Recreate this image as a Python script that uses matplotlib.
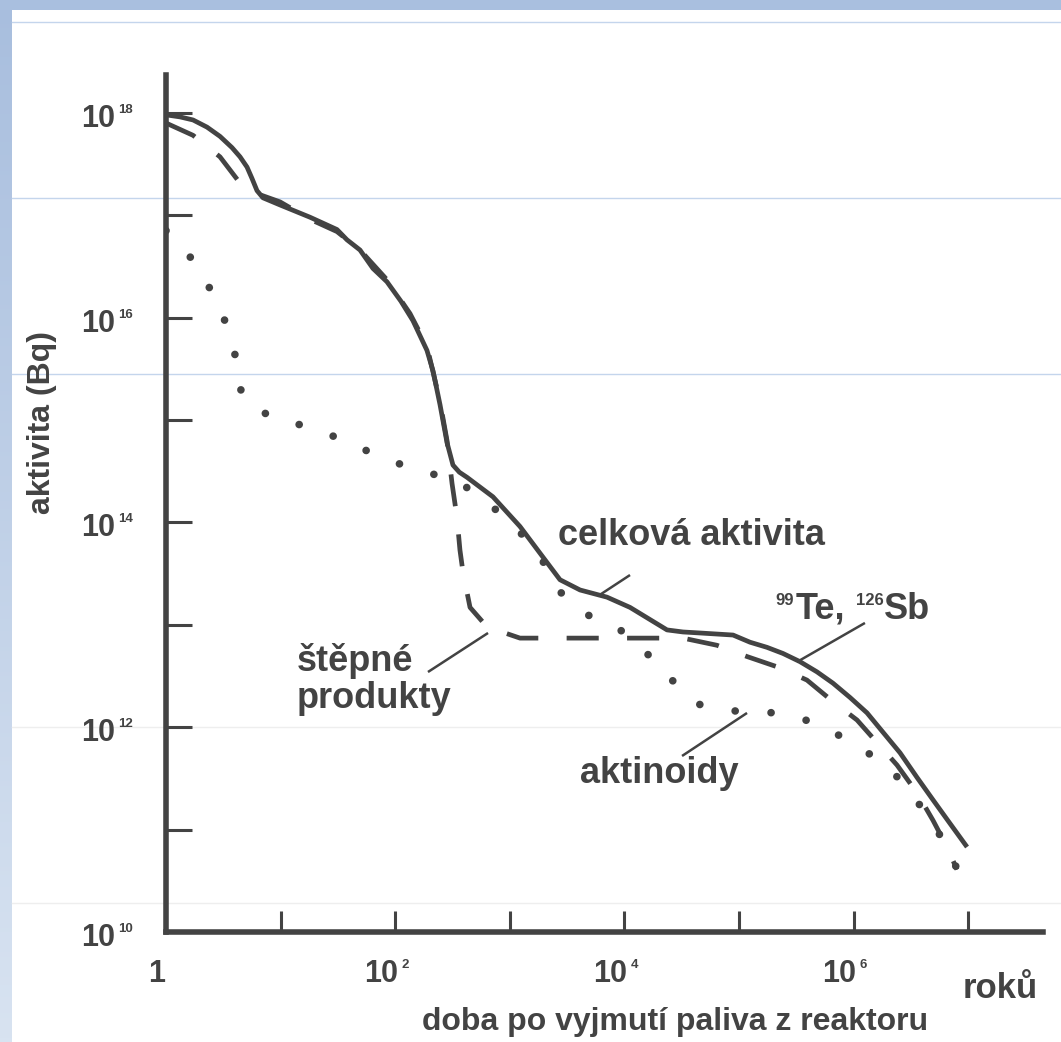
import numpy as np
import matplotlib
matplotlib.use('Agg')
import matplotlib.pyplot as plt
from matplotlib.lines import Line2D
from matplotlib.patches import Rectangle
from matplotlib.ticker import NullLocator

W, H = 1061, 1042
INK = '#434343'

# ---- data (log10 of years, log10 of activity in Bq) ----
total_log_t = [0.0, 0.122, 0.236, 0.358, 0.471, 0.576, 0.646, 0.707, 0.750, 0.794,
               0.846, 0.995, 1.257, 1.492, 1.579, 1.693, 1.806, 1.928, 2.050, 2.155,
               2.277, 2.330, 2.391, 2.452, 2.504, 2.560, 2.627, 2.853, 3.089, 3.290,
               3.438, 3.613, 3.848, 4.049, 4.372, 4.511, 4.660, 4.948, 5.096, 5.244,
               5.384, 5.532, 5.681, 5.820, 5.969, 6.117, 6.257, 6.405, 6.553, 6.693,
               6.841, 6.990]
total_log_a = [17.98, 17.96, 17.93, 17.86, 17.77, 17.66, 17.57, 17.47, 17.36, 17.24,
               17.17, 17.10, 16.98, 16.86, 16.76, 16.66, 16.48, 16.35, 16.16, 15.97,
               15.68, 15.48, 15.15, 14.78, 14.56, 14.49, 14.44, 14.25, 13.96, 13.66,
               13.44, 13.34, 13.27, 13.17, 12.95, 12.93, 12.92, 12.90, 12.83, 12.78,
               12.72, 12.64, 12.54, 12.43, 12.29, 12.14, 11.95, 11.75, 11.51, 11.29,
               11.06, 10.83]

fission_log_t = [0.0, 0.236, 0.471, 0.628, 0.820, 0.995, 1.257, 1.492, 1.693, 1.928,
                 2.129, 2.277, 2.391, 2.452, 2.496, 2.539, 2.565, 2.592, 2.653, 2.801,
                 3.089, 3.787, 4.511, 4.808, 5.070, 5.358, 5.593, 5.820, 6.030, 6.204,
                 6.379, 6.553, 6.693, 6.815, 6.902]
fission_log_a = [17.90, 17.78, 17.57, 17.34, 17.20, 17.13, 16.96, 16.84, 16.66, 16.37,
                 16.04, 15.72, 15.18, 14.80, 14.38, 14.05, 13.73, 13.51, 13.17, 12.98,
                 12.87, 12.87, 12.87, 12.80, 12.69, 12.58, 12.46, 12.25, 12.07, 11.85,
                 11.63, 11.36, 11.09, 10.83, 10.61]

actinoid_log_t = [0.0, 0.253, 0.410, 0.541, 0.620, 0.663, 0.925, 1.257, 1.579, 1.885,
                  2.199, 2.539, 2.810, 3.045, 3.264, 3.394, 3.630, 3.944, 4.197, 4.415,
                  4.660, 5.009, 5.340, 5.681, 5.969, 6.248, 6.475, 6.667, 6.841, 6.902]
actinoid_log_a = [16.85, 16.54, 16.23, 15.90, 15.56, 15.22, 15.02, 14.93, 14.79, 14.63,
                  14.51, 14.41, 14.19, 13.96, 13.68, 13.37, 13.12, 12.97, 12.72, 12.46,
                  12.22, 12.15, 12.14, 12.04, 11.86, 11.66, 11.41, 11.09, 10.80, 10.61]

y_tick_exps = [10, 11, 12, 13, 14, 15, 16, 17, 18]
y_label_exps = [10, 12, 14, 16, 18]
x_tick_exps = [1, 2, 3, 4, 5, 6, 7]
x_label_exps = [2, 4, 6]

y_axis_title = 'aktivita (Bq)'
x_axis_title = 'doba po vyjmutí paliva z reaktoru'
x_unit = 'roků'
label_total = 'celková aktivita'
label_fission = ['štěpné', 'produkty']
label_actinoids = 'aktinoidy'

plt.rcParams['font.family'] = ['Liberation Sans', 'DejaVu Sans']
plt.rcParams['font.weight'] = 'bold'

fig = plt.figure(figsize=(W / 100, H / 100), dpi=100)
fig.patch.set_facecolor('white')


def fx(px):
    return px / W


def fy(py):
    return 1 - py / H


# ---- slide background decorations ----
bg = fig.add_axes([0, 0, fx(12), 1])
grad = np.linspace(0, 1, 256)[:, None, None]
top_c = np.array([168, 190, 222]) / 255
bot_c = np.array([216, 227, 241]) / 255
img = top_c * (1 - grad) + bot_c * grad
bg.imshow(img, aspect='auto', extent=[0, 1, 0, 1])
bg.set_axis_off()
fig.add_artist(Rectangle((0, fy(10)), 1, fy(0) - fy(10), transform=fig.transFigure,
                         facecolor='#a9bfdf', edgecolor='none', zorder=0.5))
for yy, col in [(22, '#c4d5ec'), (198, '#c4d5ec'), (374, '#c4d5ec'),
                (727, '#eeeeee'), (903, '#eeeeee')]:
    fig.add_artist(Line2D([fx(12), 1], [fy(yy), fy(yy)], transform=fig.transFigure,
                          color=col, lw=1.0, zorder=0.5))

# ---- main axes ----
X0, X1 = 166, 1043
Y0, Y1 = 932, 75
DX = 114.6   # px per decade in x
DY = 102.4   # px per decade in y
ax = fig.add_axes([fx(X0), fy(Y0), (X1 - X0) / W, (Y0 - Y1) / H])
ax.set_zorder(2)
ax.patch.set_visible(False)
ax.set_xscale('log')
ax.set_yscale('log')
ax.set_xlim(1, 10 ** ((X1 - X0) / DX))
ax.set_ylim(1e10, 10 ** (10 + (Y0 - Y1) / DY))

for s in ['top', 'right']:
    ax.spines[s].set_visible(False)
for s in ['left', 'bottom']:
    ax.spines[s].set_linewidth(4.0)
    ax.spines[s].set_color(INK)
    ax.spines[s].set_capstyle('projecting')

ax.set_xticks([10.0 ** e for e in x_tick_exps])
ax.set_yticks([10.0 ** e for e in y_tick_exps])
ax.xaxis.set_minor_locator(NullLocator())
ax.yaxis.set_minor_locator(NullLocator())
ax.tick_params(axis='x', direction='in', length=15, width=2.2, color=INK,
               labelbottom=False)
ax.tick_params(axis='y', direction='in', length=18.5, width=2.2, color=INK,
               labelleft=False)

# ---- curves ----
def pw(v):
    return [10.0 ** x for x in v]

ax.plot(pw(actinoid_log_t), pw(actinoid_log_a), color=INK, lw=5.5,
        linestyle=(0, (0.01, 4.7)), dash_capstyle='round', zorder=3)
ax.plot(pw(fission_log_t), pw(fission_log_a), color=INK, lw=3.4,
        linestyle=(0, (6.8, 6.0)), dash_capstyle='butt', dash_joinstyle='round',
        zorder=4)
ax.plot(pw(total_log_t), pw(total_log_a), color=INK, lw=3.4,
        solid_capstyle='butt', solid_joinstyle='round', zorder=5)

# ---- tick labels ----
FS_TICK = 22
FS_EXP = 9.5
for e in y_label_exps:
    ax.annotate('10', xy=(0, 10.0 ** e), xycoords=('axes fraction', 'data'),
                xytext=(-51, -14), textcoords='offset pixels', ha='right',
                va='baseline', fontsize=FS_TICK, color=INK, fontweight='bold')
    ax.annotate(str(e), xy=(0, 10.0 ** e), xycoords=('axes fraction', 'data'),
                xytext=(-48, 0), textcoords='offset pixels', ha='left',
                va='baseline', fontsize=FS_EXP, color=INK, fontweight='bold')

ax.annotate('1', xy=(1, 0), xycoords=('data', 'axes fraction'),
            xytext=(-9, -50), textcoords='offset pixels', ha='center',
            va='baseline', fontsize=FS_TICK, color=INK, fontweight='bold')
for e in x_label_exps:
    ax.annotate('10', xy=(10.0 ** e, 0), xycoords=('data', 'axes fraction'),
                xytext=(3, -50), textcoords='offset pixels', ha='right',
                va='baseline', fontsize=FS_TICK, color=INK, fontweight='bold')
    ax.annotate(str(e), xy=(10.0 ** e, 0), xycoords=('data', 'axes fraction'),
                xytext=(6, -36), textcoords='offset pixels', ha='left',
                va='baseline', fontsize=FS_EXP, color=INK, fontweight='bold')

fig.text(fx(963), fy(998), x_unit, ha='left', va='baseline', fontsize=25,
         color=INK, fontweight='bold')
fig.text(fx(675), fy(1030), x_axis_title, ha='center', va='baseline',
         fontsize=23, color=INK, fontweight='bold')
fig.text(fx(42), fy(422), y_axis_title, ha='center', va='center', rotation=90,
         fontsize=23, color=INK, fontweight='bold')

# ---- curve labels ----
FS_LAB = 26
fig.text(fx(558), fy(545), label_total, ha='left', va='baseline', fontsize=FS_LAB,
         color=INK, fontweight='bold')
fig.text(fx(297), fy(671), label_fission[0], ha='left', va='baseline',
         fontsize=FS_LAB, color=INK, fontweight='bold')
fig.text(fx(297), fy(708), label_fission[1], ha='left', va='baseline',
         fontsize=FS_LAB, color=INK, fontweight='bold')
fig.text(fx(580), fy(783), label_actinoids, ha='left', va='baseline',
         fontsize=FS_LAB, color=INK, fontweight='bold')

# isotopes label with superscript mass numbers
fig.text(fx(775), fy(605), '99', ha='left', va='baseline', fontsize=12,
         color=INK, fontweight='bold')
fig.text(fx(796), fy(619), 'Te,', ha='left', va='baseline', fontsize=FS_LAB,
         color=INK, fontweight='bold')
fig.text(fx(856), fy(605), '126', ha='left', va='baseline', fontsize=12,
         color=INK, fontweight='bold')
fig.text(fx(884), fy(619), 'Sb', ha='left', va='baseline', fontsize=FS_LAB,
         color=INK, fontweight='bold')

# ---- leader lines (data coordinates, log10 values) ----
leaders = [
    ((4.049, 13.486), (3.770, 13.281)),   # celková aktivita
    ((6.099, 13.018), (5.506, 12.637)),   # Te, Sb
    ((5.070, 12.139), (4.503, 11.719)),   # aktinoidy
    ((2.810, 12.920), (2.286, 12.539)),   # štěpné produkty
]
for (a, b) in leaders:
    ax.plot([10 ** a[0], 10 ** b[0]], [10 ** a[1], 10 ** b[1]], color=INK,
            lw=1.8, solid_capstyle='butt', zorder=6)

fig.savefig('out.png', dpi=100)
